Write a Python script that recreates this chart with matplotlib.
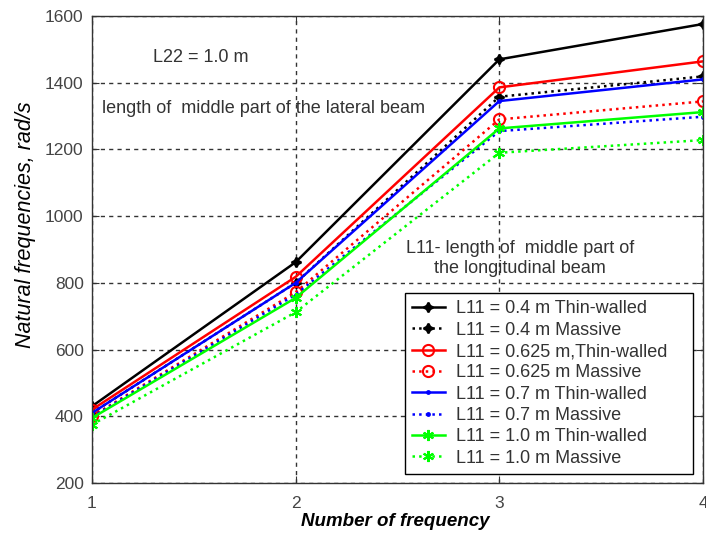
import matplotlib
matplotlib.use("Agg")
import matplotlib.pyplot as plt

freq_no = [1, 2, 3, 4]
labels = ["L11 = 0.4 m Thin-walled", "L11 = 0.4 m Massive",
          "L11 = 0.625 m,Thin-walled", "L11 = 0.625 m Massive",
          "L11 = 0.7 m Thin-walled", "L11 = 0.7 m Massive",
          "L11 = 1.0 m Thin-walled", "L11 = 1.0 m Massive"]
l04_thin = [430, 862, 1470, 1576]
l04_mass = [410, 800, 1358, 1419]
l0625_thin = [420, 818, 1386, 1464]
l0625_mass = [400, 772, 1290, 1344]
l07_thin = [410, 800, 1345, 1410]
l07_mass = [398, 765, 1255, 1298]
l10_thin = [395, 755, 1263, 1312]
l10_mass = [375, 712, 1190, 1228]
series = [l04_thin, l04_mass, l0625_thin, l0625_mass, l07_thin, l07_mass, l10_thin, l10_mass]
yticks = [200, 400, 600, 800, 1000, 1200, 1400, 1600]

plt.rcParams['font.family'] = ['Liberation Sans', 'DejaVu Sans']

colors = ['black', 'black', '#ff0000', '#ff0000', '#0000ff', '#0000ff', '#00ff00', '#00ff00']
styles = ['-', ':', '-', ':', '-', ':', '-', ':']
markers = [(4, 1, 0), (4, 1, 0), 'o', 'o', '.', '.', (6, 2, 0), (6, 2, 0)]
msizes = [7, 7, 8, 8, 4, 4, 8, 8]
mfcs = ['black', 'black', 'none', 'none', '#0000ff', '#0000ff', 'none', 'none']

fig = plt.figure(figsize=(7.06, 5.37), dpi=100)
ax = fig.add_axes([92/706, 1 - 483/537, (703-92)/706, (483-16)/537])

for vals, lab, c, ls, m, ms, mfc in zip(series, labels, colors, styles, markers, msizes, mfcs):
    ax.plot(freq_no, vals, color=c, linestyle=ls, marker=m, markersize=ms,
            markerfacecolor=mfc, markeredgecolor=c, markeredgewidth=1.5,
            linewidth=1.8, label=lab)

ax.set_xlim(1, 4)
ax.set_ylim(200, 1600)
ax.set_xticks(freq_no)
ax.set_yticks(yticks)
ax.grid(True, color='#333333', linestyle=(0, (3, 3)), linewidth=1.0)
ax.tick_params(direction='in', length=5, top=True, right=True, labelsize=12.5,
               labelcolor='#444444', color='#333333')
ax.tick_params(axis='x', pad=9)
ax.tick_params(axis='y', pad=6)
for s in ax.spines.values():
    s.set_color('#333333')
    s.set_linewidth(1.0)

ax.set_ylabel('Natural frequencies, rad/s', fontsize=15.5, style='italic')
ax.yaxis.set_label_coords((36 - 92)/611, (483 - 225)/467)
ax.set_xlabel('Number of frequency', fontsize=13.5, style='italic', weight='bold')
ax.xaxis.set_label_coords((395 - 92)/611, -(513 - 483)/467)

ax.text(1.30, 1477, 'L22 = 1.0 m', fontsize=13, color='#333333', va='center')
ax.text(1.05, 1324, 'length of  middle part of the lateral beam', fontsize=13,
        color='#333333', va='center')
ax.text(3.10, 872, 'L11- length of  middle part of\nthe longitudinal beam', fontsize=13,
        color='#333333', va='center', ha='center', linespacing=1.22)

leg = ax.legend(loc='lower left', bbox_to_anchor=((405-92)/611, 0.0193, (693-405)/611, 0.3),
                mode='expand', fontsize=13,
                frameon=True, fancybox=False, edgecolor='black', framealpha=1,
                handlelength=1.8, labelspacing=0.24, borderpad=0.4, handletextpad=0.6,
                borderaxespad=0.0)
leg.get_frame().set_linewidth(1.0)
for t in leg.get_texts():
    t.set_color('#333333')

fig.savefig('out.png', dpi=100)
